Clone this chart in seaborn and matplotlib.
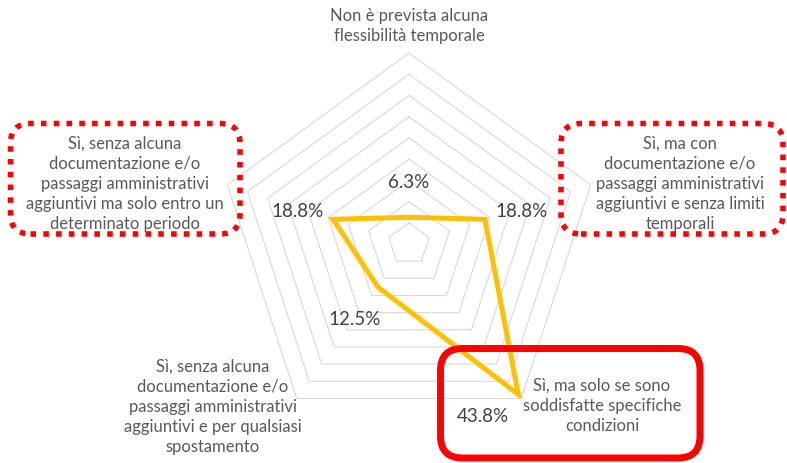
import numpy as np
import pandas as pd
import matplotlib
matplotlib.use("Agg")
import matplotlib.pyplot as plt
from matplotlib.patches import FancyBboxPatch
from matplotlib.transforms import IdentityTransform
import seaborn as sns

# Survey answers (clockwise from the top) and their shares in percent
categories = [
    "Non è prevista alcuna\nflessibilità temporale",
    "Sì, ma con\ndocumentazione e/o\npassaggi amministrativi\naggiuntivi e senza limiti\ntemporali",
    "Sì, ma solo se sono\nsoddisfatte specifiche\ncondizioni",
    "Sì, senza alcuna\ndocumentazione e/o\npassaggi amministrativi\naggiuntivi e per qualsiasi\nspostamento",
    "Sì, senza alcuna\ndocumentazione e/o\npassaggi amministrativi\naggiuntivi ma solo entro un\ndeterminato periodo",
]
values = [6.3, 18.8, 43.8, 12.5, 18.8]
value_labels = ["6.3%", "18.8%", "43.8%", "12.5%", "18.8%"]
ring_levels = [5, 10, 15, 20, 25, 30, 35, 40, 45]

W, H = 787, 464
sns.set_theme(style="white")
plt.rcParams["font.family"] = ["Lato", "DejaVu Sans"]

fig = plt.figure(figsize=(W / 100, H / 100), dpi=100)
fig.patch.set_facecolor("white")

# polar axes centred at (409, 245) px with a 191 px outer radius
cx, cy, R = 409, 245, 191
ax = fig.add_axes([(cx - R) / W, (H - cy - R) / H, 2 * R / W, 2 * R / H],
                  projection="polar")
ax.set_theta_zero_location("N")
ax.set_theta_direction(-1)
ax.set_ylim(0, ring_levels[-1])
ax.grid(False)
ax.set_xticks([])
ax.set_yticks([])
ax.spines["polar"].set_visible(False)
ax.patch.set_alpha(0)

n = len(values)
theta = np.linspace(0, 2 * np.pi, n, endpoint=False)
theta_closed = np.append(theta, 2 * np.pi)

# pentagon gridlines
for lvl in ring_levels:
    ax.plot(theta_closed, [lvl] * (n + 1), color="#D9D9D9", lw=0.8, zorder=1)

df = pd.DataFrame({"theta": theta_closed, "share": values + values[:1]})
sns.lineplot(data=df, x="theta", y="share", sort=False, estimator=None,
             color="#FFC000", lw=3.6, ax=ax, zorder=3)
for line in ax.lines[-1:]:
    line.set_solid_joinstyle("miter")
ax.set_xlabel("")
ax.set_ylabel("")

# value labels offset from their points (pixels)
offsets = [(0, 36), (37, 9), (-35, -21), (-23, -32), (-36, 9)]
for t, v, lab, off in zip(theta, values, value_labels, offsets):
    ax.annotate(lab, (t, v), xytext=off, textcoords="offset pixels",
                ha="center", va="center", fontsize=13.5, color="#404040",
                zorder=5)

# category labels placed around the chart (pixel coordinates)
cat_pos = [(409, 26), (680, 184), (602, 406), (213, 407), (125, 184)]
for lab, (x, y) in zip(categories, cat_pos):
    fig.text(x / W, 1 - y / H, lab, ha="center", va="center",
             fontsize=12, color="#595959", linespacing=1.32)

# highlight frames around three answers
def frame(x0, y0, x1, y1, dotted, lw, rad):
    p = FancyBboxPatch((x0, H - y1), x1 - x0, y1 - y0,
                       boxstyle=f"round,pad=0,rounding_size={rad}",
                       transform=IdentityTransform(), fill=False,
                       edgecolor="#FF0000", lw=lw,
                       linestyle=(0, (1, 1.3)) if dotted else "-",
                       capstyle="butt", zorder=10)
    fig.add_artist(p)

frame(10.5, 124.5, 240, 235, True, 4.0, 20)
frame(561, 124.5, 783, 235, True, 4.0, 20)
frame(440.5, 349.5, 700, 459, False, 5.0, 22)

fig.savefig("out.png", dpi=100, facecolor="white")
